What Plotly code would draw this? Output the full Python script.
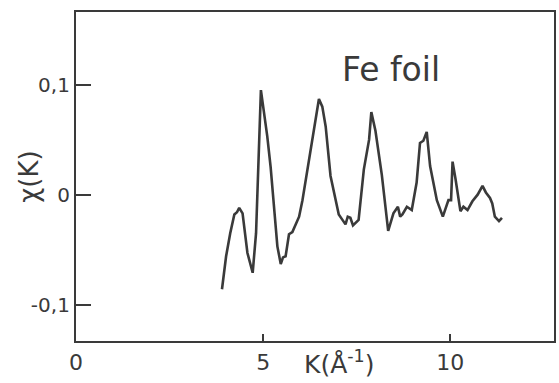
import plotly.graph_objects as go

k_values = [3.90, 4.01, 4.12, 4.23, 4.30, 4.36, 4.45, 4.58, 4.72, 4.81, 4.94, 5.02, 5.11, 5.20, 5.29, 5.38,
            5.47, 5.53, 5.60, 5.69, 5.78, 5.87, 5.96, 6.05, 6.22, 6.36, 6.49, 6.58, 6.67, 6.80, 6.93,
            7.02, 7.10, 7.20, 7.26, 7.33, 7.40, 7.47, 7.55, 7.69, 7.77, 7.83, 7.89, 8.00, 8.17, 8.34,
            8.48, 8.60, 8.66, 8.72, 8.84, 8.97, 9.10, 9.19, 9.28, 9.37, 9.46, 9.64, 9.80, 9.95, 10.02,
            10.06, 10.14, 10.27, 10.35, 10.46, 10.59, 10.73, 10.86, 10.95, 11.06, 11.12, 11.19, 11.30, 11.38]
chi_values = [-0.086, -0.056, -0.035, -0.018, -0.016, -0.012, -0.017, -0.053, -0.071, -0.035, 0.095, 0.075, 0.053,
              0.025, -0.014, -0.047, -0.063, -0.057, -0.056, -0.036, -0.034, -0.027, -0.020, -0.005, 0.032,
              0.062, 0.087, 0.080, 0.062, 0.017, -0.002, -0.018, -0.022, -0.027, -0.020, -0.021, -0.028,
              -0.026, -0.023, 0.023, 0.038, 0.050, 0.075, 0.058, 0.018, -0.033, -0.017, -0.011, -0.020,
              -0.018, -0.011, -0.014, 0.011, 0.047, 0.049, 0.057, 0.026, -0.005, -0.020, -0.005, -0.005,
              0.030, 0.014, -0.015, -0.011, -0.014, -0.006, 0.000, 0.008, 0.002, -0.003, -0.008, -0.020,
              -0.024, -0.021]

x_tick_vals = [0, 5, 10]
x_tick_text = ["0", "5", "10"]
y_tick_vals = [-0.1, 0, 0.1]
y_tick_text = ["-0,1", "0", "0,1"]

ink = "#3a3a3a"
font_family = "DejaVu Sans"

fig = go.Figure()
fig.add_trace(go.Scatter(x=k_values, y=chi_values, mode="lines",
                         line=dict(color=ink, width=2.6), hoverinfo="skip", showlegend=False))

fig.update_layout(
    width=559, height=383,
    margin=dict(l=76, r=3, t=12, b=42),
    paper_bgcolor="white", plot_bgcolor="white",
    font=dict(family=font_family, color=ink),
    xaxis=dict(range=[0, 12.77], tickvals=x_tick_vals, ticktext=x_tick_text,
               ticks="inside", ticklen=7, tickwidth=2, tickcolor=ink,
               showline=True, mirror=True, linecolor=ink, linewidth=2.2,
               showgrid=False, zeroline=False, tickfont=dict(size=22, color=ink)),
    yaxis=dict(range=[-0.133, 0.166], tickvals=y_tick_vals, ticktext=y_tick_text,
               ticks="inside", ticklen=15, tickwidth=2, tickcolor=ink,
               showline=True, mirror=True, linecolor=ink, linewidth=2.2,
               showgrid=False, zeroline=False, tickfont=dict(size=20, color=ink)),
    annotations=[
        dict(text="Fe foil", x=0.66, y=0.824, xref="paper", yref="paper",
             showarrow=False, font=dict(size=33, color=ink), xanchor="center", yanchor="middle"),
        dict(text="K(Å<sup>-1</sup>)", x=0.55, y=-0.066, xref="paper", yref="paper",
             showarrow=False, font=dict(size=25, color=ink), xanchor="center", yanchor="middle"),
        dict(text="χ(K)", x=-0.1, y=0.5, xref="paper", yref="paper", textangle=-90,
             showarrow=False, font=dict(size=26, color=ink), xanchor="center", yanchor="middle"),
    ],
)

fig.write_html("out.html")
